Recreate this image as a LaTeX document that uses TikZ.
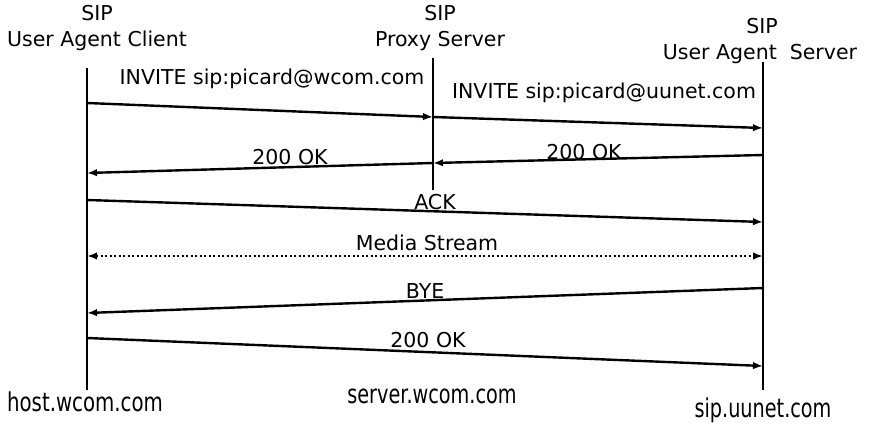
\documentclass[tikz,border=0pt]{standalone}
\usepackage{fontspec}
\usepackage{graphicx}
\setmainfont{DejaVu Sans}
\usetikzlibrary{arrows.meta}
\begin{document}
\begin{tikzpicture}[x=1pt,y=-1pt,
  lbl/.style={font=\fontsize{20.5}{22}\selectfont, inner sep=0pt, anchor=center},
  host/.style={font=\fontsize{26}{28}\selectfont, inner sep=0pt, anchor=center},
  life/.style={line width=2.5pt},
  msg/.style={line width=2.4pt, -{Latex[length=10pt,width=7.5pt]}},
  media/.style={line width=2.4pt, dash pattern=on 2pt off 2.5pt, {Latex[length=10pt,width=7.5pt]}-{Latex[length=10pt,width=7.5pt]}}]
\useasboundingbox (0,0) rectangle (882,433);
\fill[white] (0,0) rectangle (882,433);
% headers
\node[lbl] (h1a) at (97,13) {SIP};
\node[lbl] (h1b) at (97,41) {User Agent Client};
\node[lbl] (h2a) at (440,13) {SIP};
\node[lbl] (h2b) at (440,41) {Proxy Server};
\node[lbl] (h3a) at (762,26) {SIP};
\node[lbl] (h3b) at (760,54) {User Agent\ \ Server};
% lifeline coordinates
\coordinate (c0) at (87,68);
\coordinate (c1) at (87,390);
\coordinate (p0) at (433,58);
\coordinate (p1) at (433,190);
\coordinate (s0) at (763,62);
\coordinate (s1) at (763,390);
\draw[life] (c0) -- (c1);
\draw[life] (p0) -- (p1);
\draw[life] (s0) -- (s1);
% message endpoints
\coordinate (m1a) at (87,103);  \coordinate (m1b) at (433,117);
\coordinate (m2a) at (433,117); \coordinate (m2b) at (763,128);
\coordinate (m3a) at (763,155); \coordinate (m3b) at (433,163);
\coordinate (m4a) at (433,163); \coordinate (m4b) at (87,173);
\coordinate (m5a) at (87,200);  \coordinate (m5b) at (763,222);
\coordinate (m6a) at (87,256);  \coordinate (m6b) at (763,256);
\coordinate (m7a) at (763,288); \coordinate (m7b) at (87,313);
\coordinate (m8a) at (87,338);  \coordinate (m8b) at (763,366);
\draw[msg] (m1a) -- (m1b);
\draw[msg] (m2a) -- (m2b);
\draw[msg] (m3a) -- (m3b);
\draw[msg] (m4a) -- (m4b);
\draw[msg] (m5a) -- (m5b);
\draw[media] (m6a) -- (m6b);
\draw[msg] (m7a) -- (m7b);
\draw[msg] (m8a) -- (m8b);
% labels
\node[lbl] (l1) at (272,79) {INVITE sip:picard@wcom.com};
\node[lbl] (l2) at (604,93) {INVITE sip:picard@uunet.com};
\node[lbl] (l3) at (584,152) {200 OK};
\node[lbl] (l4) at (290,157) {200 OK};
\node[lbl] (l5) at (435,202) {ACK};
\node[lbl] (l6) at (427,243) {Media Stream};
\node[lbl] (l7) at (425,291) {BYE};
\node[lbl] (l8) at (428,340) {200 OK};
% host names
\node[host] (b1) at (85,402) {\scalebox{0.76}[1]{host.wcom.com}};
\node[host] (b2) at (432,396) {\scalebox{0.74}[1]{server.wcom.com}};
\node[host] (b3) at (763,410) {\scalebox{0.74}[1]{sip.uunet.com}};
\end{tikzpicture}
\end{document}
